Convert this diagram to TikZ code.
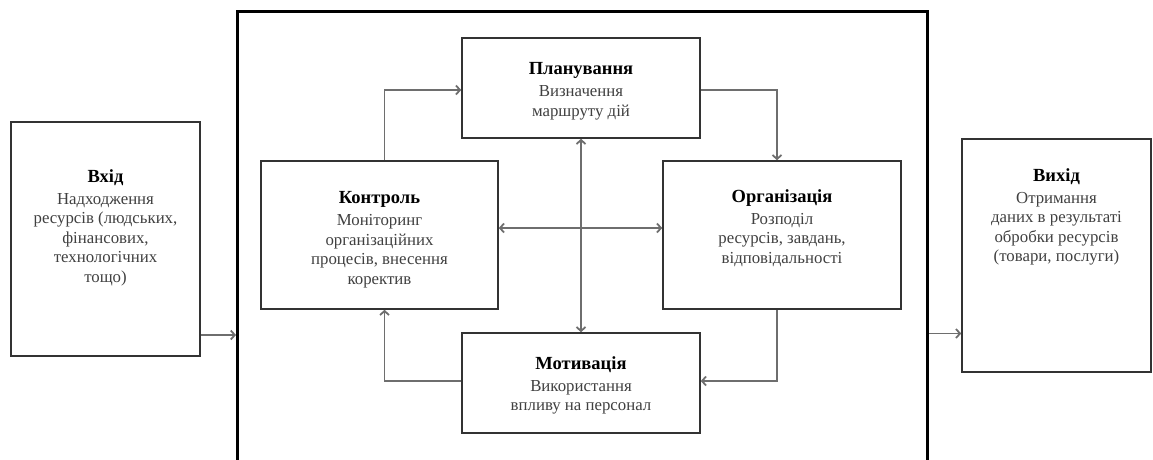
\documentclass[tikz,border=0pt]{standalone}
\usepackage{fontspec}
\setmainfont{Liberation Serif}
\usepackage{tikz}
\usetikzlibrary{positioning,arrows.meta}

\definecolor{strilkacolor}{HTML}{6E6E6E}
\definecolor{blokcolor}{HTML}{333333}
\newcommand{\nazva}[1]{{\color{black}\fontsize{18.5}{19.5}\selectfont\bfseries #1}\\[2.5pt]}
\tikzset{
	blok/.style={draw=blokcolor,line width=1.6pt,inner sep=0pt},
	ramka/.style={draw=black,line width=3pt,inner sep=0pt},
	tekst/.style={align=center,inner sep=0pt,text=black!75,font=\fontsize{16.8}{19.5}\selectfont},
	strilka/.style={draw=strilkacolor,line width=1.8pt,-{Straight Barb[length=4pt,width=9pt]}},
	dvistrilka/.style={strilka,{Straight Barb[length=4pt,width=9pt]}-{Straight Barb[length=4pt,width=9pt]}}
}

\begin{document}
\begin{tikzpicture}[x=1pt,y=-1pt]
		\useasboundingbox (0,0) rectangle (1153,459);
		\clip (0,0) rectangle (1153,459);
		\node[ramka,minimum width=690pt,minimum height=520pt,anchor=north west] (systema) at (236,10) {};
		\node[blok,minimum width=189pt,minimum height=234pt] (vhid) at (105.5,239) {};
		\node[blok,minimum width=189pt,minimum height=233pt] (vyhid) at (1056.5,255.5) {};
		\node[blok,minimum width=238pt,minimum height=100pt] (planuvannia) at (581,88) {};
		\node[blok,minimum width=237pt,minimum height=148pt] (kontrol) at (379.5,235) {};
		\node[blok,minimum width=238pt,minimum height=148pt] (orhanizatsiia) at (782,235) {};
		\node[blok,minimum width=238pt,minimum height=100pt] (motyvatsiia) at (581,383) {};
		\node[tekst,below=48pt of vhid.north] (vhidtxt) {\nazva{Вхід}Надходження\\ресурсів (людських,\\фінансових,\\технологічних\\тощо)};
		\node[tekst,below=30pt of vyhid.north] (vyhidtxt) {\nazva{Вихід}Отримання\\даних в результаті\\обробки ресурсів\\(товари, послуги)};
		\node[tekst,below=25pt of planuvannia.north] (planuvanniatxt) {\nazva{Планування}Визначення\\маршруту дій};
		\node[tekst,below=31pt of kontrol.north] (kontroltxt) {\nazva{Контроль}Моніторинг\\організаційних\\процесів, внесення\\коректив};
		\node[tekst,below=29pt of orhanizatsiia.north] (orhanizatsiiatxt) {\nazva{Організація}Розподіл\\ресурсів, завдань,\\відповідальності};
		\node[tekst,below=24pt of motyvatsiia.north] (motyvatsiiatxt) {\nazva{Мотивація}Використання\\впливу на персонал};
		\draw[strilka] ([yshift=-96pt]vhid.east) -- ([yshift=-96pt]vhid.east -| systema.west);
		\draw[strilka] ([yshift=-78pt]vyhid.west -| systema.east) -- ([yshift=-78pt]vyhid.west);
		\draw[strilka] ([xshift=5pt]kontrol.north) |- ([yshift=-2pt]planuvannia.west);
		\draw[strilka] ([yshift=-2pt]planuvannia.east) -| ([xshift=-5pt]orhanizatsiia.north);
		\draw[strilka] ([xshift=-5pt]orhanizatsiia.south) |- ([yshift=2pt]motyvatsiia.east);
		\draw[strilka] ([yshift=2pt]motyvatsiia.west) -| ([xshift=5pt]kontrol.south);
		\draw[dvistrilka] ([yshift=7pt]kontrol.east) -- ([yshift=7pt]orhanizatsiia.west);
		\draw[dvistrilka] (planuvannia.south) -- (motyvatsiia.north);
	\end{tikzpicture}
\end{document}
